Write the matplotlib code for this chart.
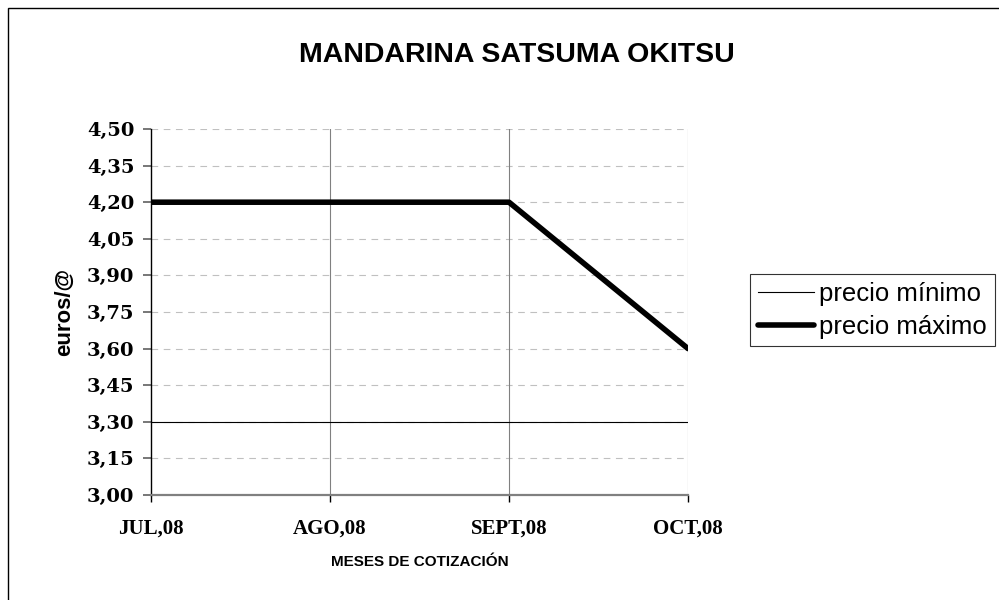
import matplotlib.pyplot as plt
from matplotlib.patches import Rectangle

meses = ['JUL,08', 'AGO,08', 'SEPT,08', 'OCT,08']
precio_minimo = [3.30, 3.30, 3.30, 3.30]
precio_maximo = [4.20, 4.20, 4.20, 3.60]
yticks = [3.00, 3.15, 3.30, 3.45, 3.60, 3.75, 3.90, 4.05, 4.20, 4.35, 4.50]

fig = plt.figure(figsize=(9.99, 6.0), dpi=100)
fig.patches.append(Rectangle((8 / 999, -0.1), 1.2, 1 - 8 / 600 + 0.1,
                             transform=fig.transFigure, fill=False,
                             edgecolor='black', linewidth=1.0))

ax = fig.add_axes([151 / 999, 1 - 495 / 600, 537 / 999, 366 / 600])
x = range(len(meses))

# rejilla
for v in yticks[1:]:
    ax.axhline(v, color='#c0c0c0', linewidth=0.8, dashes=(6, 5), zorder=1)
for i in x[1:]:
    ax.axvline(i, color='#808080', linewidth=0.8, zorder=1)

ax.plot(x, precio_minimo, color='black', linewidth=0.8, label='precio mínimo', zorder=3)
ax.plot(x, precio_maximo, color='black', linewidth=4.0, label='precio máximo',
        solid_capstyle='round', zorder=4)

ax.set_xlim(0, len(meses) - 1)
ax.set_ylim(3.00, 4.50)
ax.set_yticks(yticks)
ax.set_yticklabels([f"{v:.2f}".replace('.', ',') for v in yticks],
                   fontfamily='DejaVu Serif', fontweight='bold', fontsize=14)
ax.set_xticks(list(x))
ax.set_xticklabels(meses, fontfamily='Liberation Serif', fontweight='bold', fontsize=15)

for s in ['top', 'right']:
    ax.spines[s].set_visible(False)
ax.spines['left'].set_color('black')
ax.spines['left'].set_linewidth(1.0)
ax.spines['bottom'].set_color('#808080')
ax.spines['bottom'].set_linewidth(1.6)
ax.tick_params(axis='y', direction='out', length=6, width=1.2, color='#606060', pad=6)
ax.tick_params(axis='x', direction='out', length=5, width=1.0, color='black', pad=12)

ax.set_ylabel('euros/@', fontfamily='Liberation Sans', fontweight='bold', fontsize=16, labelpad=8)
ax.set_xlabel('MESES DE COTIZACIÓN', fontfamily='Liberation Sans', fontweight='bold',
              fontsize=11, labelpad=12)

fig.text(517 / 999, 1 - 55 / 600, 'MANDARINA SATSUMA OKITSU', ha='center', va='center',
         fontfamily='Liberation Sans', fontweight='bold', fontsize=20.5)

leg = ax.legend(loc='upper left', bbox_to_anchor=(750 / 999, 1 - 274 / 600),
                bbox_transform=fig.transFigure, borderaxespad=0, frameon=True,
                fancybox=False, prop={'family': 'Liberation Sans', 'size': 18.5},
                handlelength=2.2, handletextpad=0.2, borderpad=0.3, labelspacing=0.35)
leg.get_frame().set_edgecolor('black')
leg.get_frame().set_linewidth(0.8)

fig.savefig('out.png', dpi=100)
